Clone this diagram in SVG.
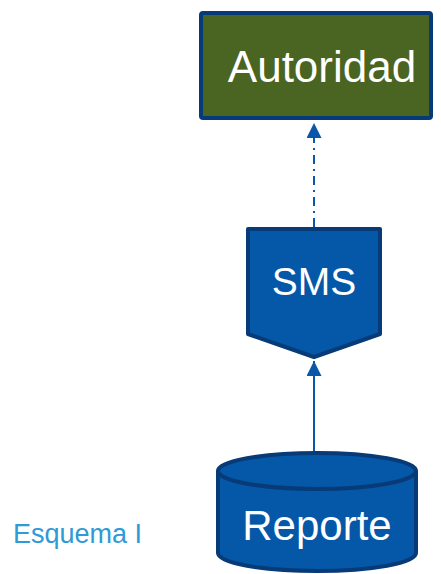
<svg xmlns="http://www.w3.org/2000/svg" width="441" height="574" viewBox="0 0 441 574">
<style>
.lbl{font-family:"Liberation Sans",Arial,sans-serif;fill:#fff;text-anchor:middle}
.node{stroke:#073B78;stroke-width:4;stroke-linejoin:round}
.conn{stroke:#0A56A8;stroke-width:2;fill:none}
</style>
<defs>
<marker id="ah" viewBox="0 0 10 10" refX="10" refY="5" markerWidth="15" markerHeight="15" markerUnits="userSpaceOnUse" orient="auto">
<path d="M0,0 L10,5 L0,10 z" fill="#0A56A8"/>
</marker>
</defs>
<g id="connectors">
<line class="conn" x1="314" y1="227" x2="314" y2="123" stroke-dasharray="9,5,2,5" marker-end="url(#ah)"/>
<line class="conn" x1="314" y1="452" x2="314" y2="361" marker-end="url(#ah)"/>
</g>
<g id="autoridad">
<rect class="node" x="201" y="13" width="230" height="105" rx="2" fill="#4A6422"/>
<text class="lbl" x="322" y="82" font-size="44">Autoridad</text>
</g>
<g id="sms">
<path class="node" d="M248,229 L380,229 L380,334 L314,357 L248,334 Z" fill="#0557A8"/>
<text class="lbl" x="314" y="295" font-size="39">SMS</text>
</g>
<g id="reporte">
<path class="node" d="M218,471 L218,553 A99,18 0 0 0 416,553 L416,471" fill="#0557A8"/>
<ellipse class="node" cx="317" cy="471" rx="99" ry="18" fill="#0557A8"/>
<text class="lbl" x="317" y="540" font-size="42">Reporte</text>
</g>
<text id="caption" x="13" y="543" font-family="Liberation Sans,Arial,sans-serif" font-size="27" fill="#2E9AD6">Esquema I</text>
</svg>
